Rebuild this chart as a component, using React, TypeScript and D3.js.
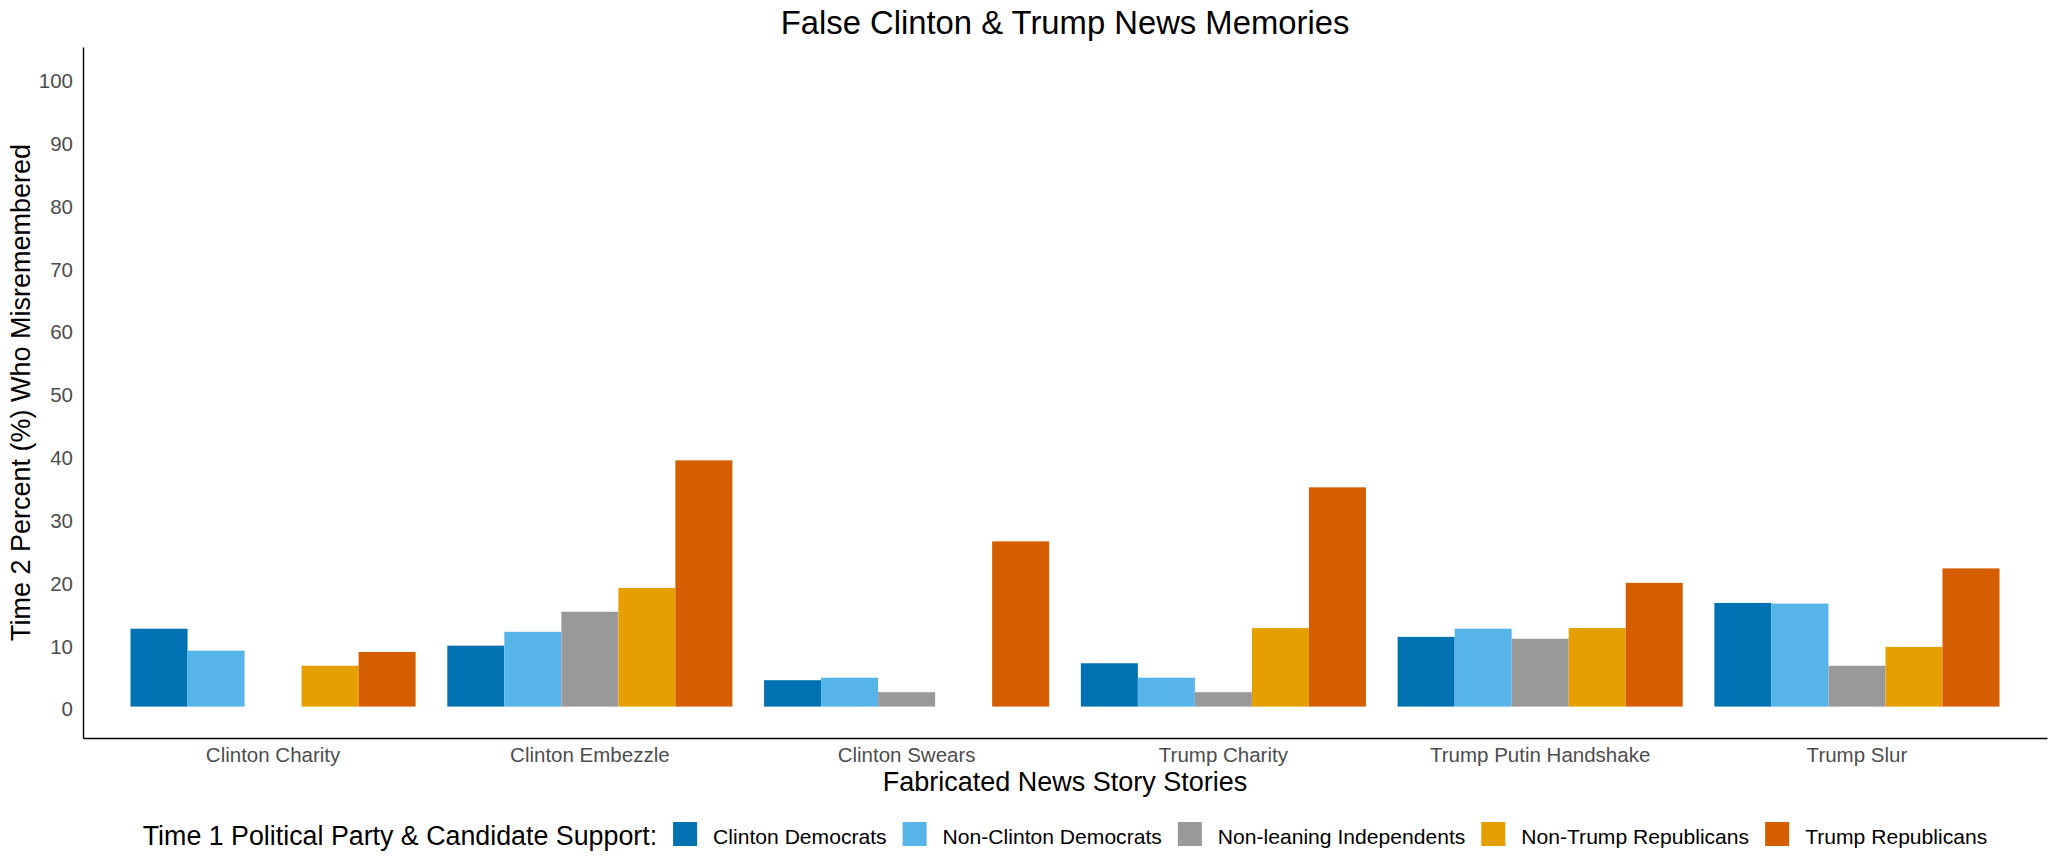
import * as d3 from 'd3';
import React, { useEffect, useRef } from 'react';

const stories = [
  'Clinton Charity',
  'Clinton Embezzle',
  'Clinton Swears',
  'Trump Charity',
  'Trump Putin Handshake',
  'Trump Slur',
];
const groups = [
  'Clinton Democrats',
  'Non-Clinton Democrats',
  'Non-leaning Independents',
  'Non-Trump Republicans',
  'Trump Republicans',
];
const colors = ['#0072B2', '#56B4E9', '#999999', '#E69F00', '#D55E00'];

// percent who misremembered, one array per group, in story order (null = no bar)
const clintonDemocrats = [12.4, 9.7, 4.2, 6.9, 11.1, 16.5];
const nonClintonDemocrats = [8.9, 11.9, 4.6, 4.6, 12.4, 16.4];
const nonLeaningIndependents = [null, 15.1, 2.3, 2.3, 10.8, 6.5];
const nonTrumpRepublicans = [6.5, 18.9, null, 12.5, 12.5, 9.5];
const trumpRepublicans = [8.7, 39.2, 26.3, 34.9, 19.7, 22.0];
const seriesValues = [
  clintonDemocrats,
  nonClintonDemocrats,
  nonLeaningIndependents,
  nonTrumpRepublicans,
  trumpRepublicans,
];
const yTicks = [0, 10, 20, 30, 40, 50, 60, 70, 80, 90, 100];

const width = 2055;
const height = 864;
const margin = { top: 47, right: 8, bottom: 126, left: 83 };
const font = '"Liberation Sans", Arial, sans-serif';

interface Bar {
  story: string;
  group: string;
  color: string;
  value: number;
}

const App: React.FC = () => {
  const ref = useRef<SVGSVGElement>(null);
  useEffect(() => {
    document.body.style.margin = '0';
    const svg = d3.select(ref.current);
    svg.selectAll('*').remove();

    const x = d3
      .scaleBand<string>()
      .domain(stories)
      .range([margin.left, width - margin.right])
      .paddingInner(0.1)
      .paddingOuter(0.15);
    const xInner = d3.scaleBand<string>().domain(groups).range([0, x.bandwidth()]);
    const y = d3
      .scaleLinear()
      .domain([-5, 105])
      .range([height - margin.bottom, margin.top]);

    const bars: Bar[] = [];
    seriesValues.forEach((vals, gi) =>
      vals.forEach((v, si) => {
        if (v !== null) bars.push({ story: stories[si], group: groups[gi], color: colors[gi], value: v });
      })
    );

    svg
      .append('g')
      .selectAll('rect')
      .data(bars)
      .join('rect')
      .attr('x', (d) => (x(d.story) || 0) + (xInner(d.group) || 0))
      .attr('width', xInner.bandwidth())
      .attr('y', (d) => y(d.value))
      .attr('height', (d) => y(0) - y(d.value))
      .attr('fill', (d) => d.color);

    const yAxis = svg
      .append('g')
      .attr('transform', `translate(${margin.left},0)`)
      .call(d3.axisLeft(y).tickValues(yTicks).tickSize(0).tickSizeOuter(0).tickPadding(10));
    yAxis.select('.domain').attr('stroke', '#000').attr('stroke-width', 1.4);
    yAxis
      .selectAll('text')
      .attr('dy', '0.45em')
      .attr('fill', '#4D4D4D')
      .style('font-size', '20.5px')
      .style('font-family', font);

    const xAxis = svg
      .append('g')
      .attr('transform', `translate(0,${height - margin.bottom})`)
      .call(d3.axisBottom(x).tickSize(0).tickSizeOuter(0).tickPadding(9.5));
    xAxis.select('.domain').attr('stroke', '#000').attr('stroke-width', 1.4);
    xAxis
      .selectAll('text')
      .attr('fill', '#4D4D4D')
      .style('font-size', '20.5px')
      .style('font-family', font);

    const cx = (margin.left + width - margin.right) / 2;
    svg
      .append('text')
      .attr('x', cx)
      .attr('y', 34)
      .attr('text-anchor', 'middle')
      .style('font-size', '32.8px')
      .style('font-family', font)
      .text('False Clinton & Trump News Memories');
    svg
      .append('text')
      .attr('x', cx)
      .attr('y', 791)
      .attr('text-anchor', 'middle')
      .style('font-size', '27px')
      .style('font-family', font)
      .text('Fabricated News Story Stories');
    svg
      .append('text')
      .attr('transform', `translate(30,${(margin.top + height - margin.bottom) / 2}) rotate(-90)`)
      .attr('text-anchor', 'middle')
      .style('font-size', '27px')
      .style('font-family', font)
      .text('Time 2 Percent (%) Who Misremembered');

    // legend, laid out left to right and centred under the panel
    const legend = svg.append('g');
    const gap = 16;
    const key = 24;
    const keyTop = 822;
    const title = legend
      .append('text')
      .attr('y', 844.5)
      .style('font-size', '26.8px')
      .style('font-family', font)
      .text('Time 1 Political Party & Candidate Support:');
    const titleW = (title.node() as SVGTextElement).getComputedTextLength();
    const labels = groups.map((g) =>
      legend
        .append('text')
        .attr('y', 844)
        .style('font-size', '21.1px')
        .style('font-family', font)
        .text(g)
    );
    const labelW = labels.map((l) => (l.node() as SVGTextElement).getComputedTextLength());
    const total = titleW + d3.sum(labelW, (w) => gap + key + gap + w);
    let pos = cx - total / 2;
    title.attr('x', pos);
    pos += titleW;
    groups.forEach((g, i) => {
      pos += gap;
      legend
        .append('rect')
        .attr('x', pos)
        .attr('y', keyTop)
        .attr('width', key)
        .attr('height', key)
        .attr('fill', colors[i]);
      pos += key + gap;
      labels[i].attr('x', pos);
      pos += labelW[i];
    });
  }, []);
  return (
    <div className="chart">
      <svg ref={ref} width={width} height={height} style={{ display: 'block', background: '#fff' }}></svg>
    </div>
  );
};

export default App;
